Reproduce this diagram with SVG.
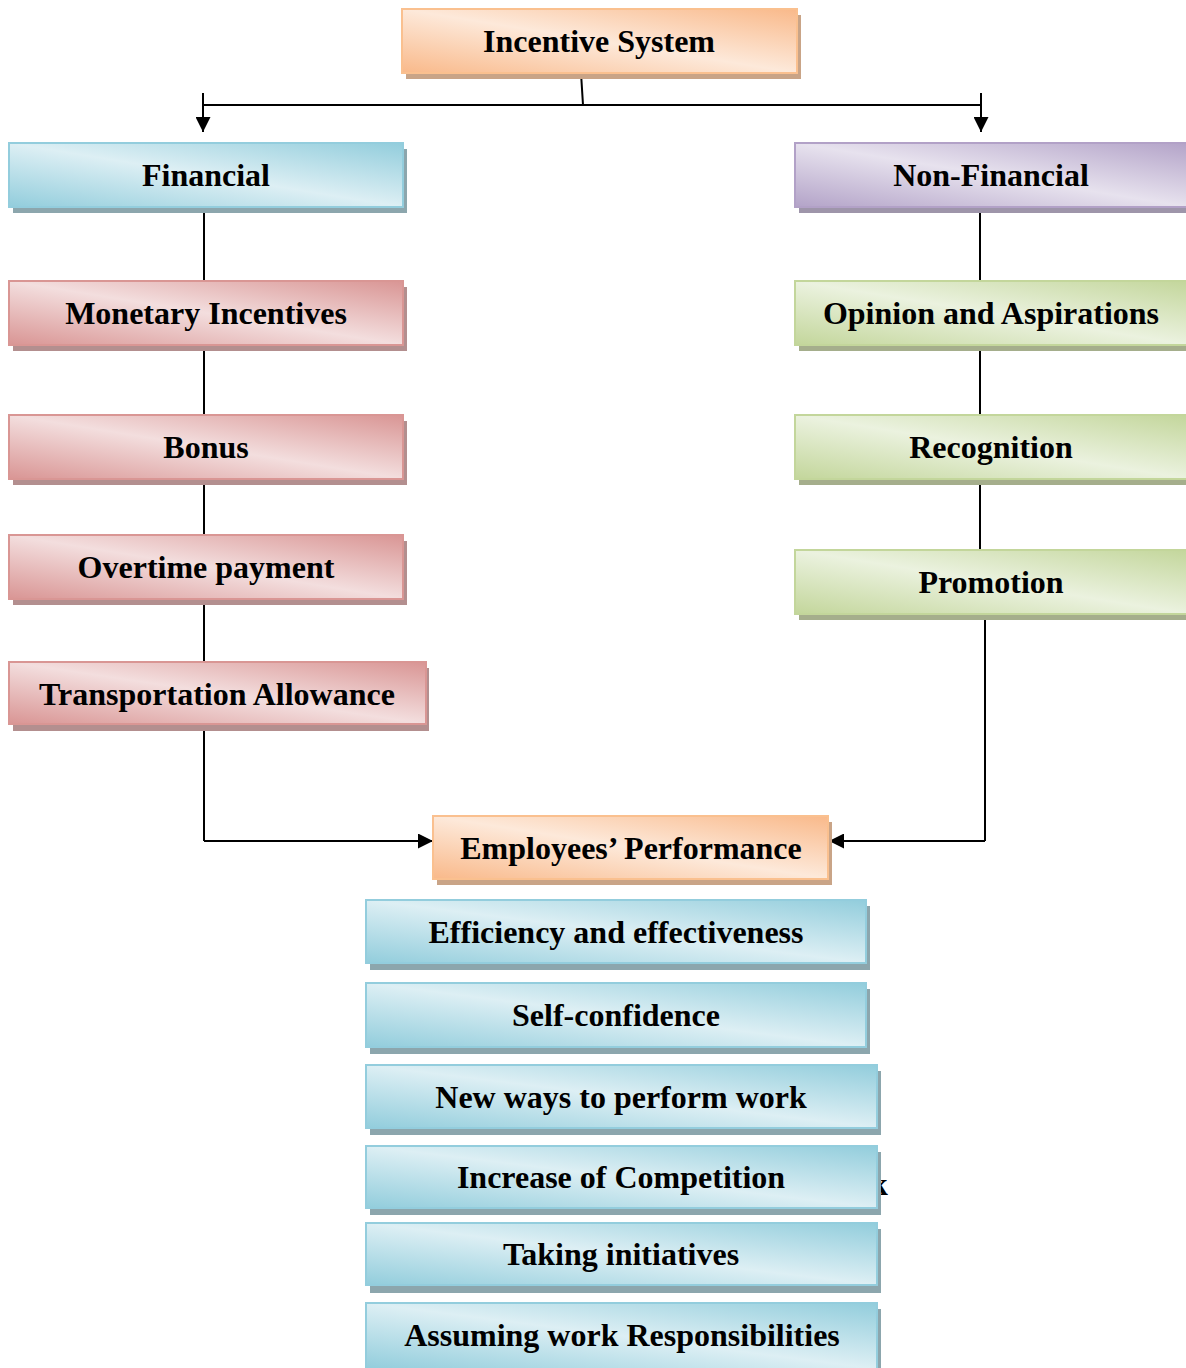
<svg xmlns="http://www.w3.org/2000/svg" width="1186" height="1368" viewBox="0 0 1186 1368">
<style>
.t{font-family:"Liberation Serif","Times New Roman",serif;font-weight:bold;font-size:32px;fill:#000;text-anchor:middle}
.ln{stroke:#000;stroke-width:2;fill:none}
.b{stroke-width:2}
.or{fill:url(#gOr);stroke:#fac08f}
.bl{fill:url(#gBl);stroke:#93cddd}
.pu{fill:url(#gPu);stroke:#b2a1c7}
.pk{fill:url(#gPk);stroke:#d99694}
.gr{fill:url(#gGr);stroke:#c3d69b}
.sOr{fill:#c9a487}
.sBl{fill:#8ca6ad}
.sPu{fill:#9e95aa}
.sPk{fill:#b38f8f}
.sGr{fill:#a5ae8c}
</style>
<defs>
<linearGradient id="gOr" x1="0" y1="1" x2="1" y2="0"><stop offset="0" stop-color="#f9b98a"/><stop offset="0.5" stop-color="#fde9da"/><stop offset="1" stop-color="#f9b98a"/></linearGradient>
<linearGradient id="gBl" x1="0" y1="1" x2="1" y2="0"><stop offset="0" stop-color="#92cddc"/><stop offset="0.5" stop-color="#ddeff4"/><stop offset="1" stop-color="#92cddc"/></linearGradient>
<linearGradient id="gPu" x1="0" y1="1" x2="1" y2="0"><stop offset="0" stop-color="#b3a3c8"/><stop offset="0.5" stop-color="#e7e2ee"/><stop offset="1" stop-color="#b3a3c8"/></linearGradient>
<linearGradient id="gPk" x1="0" y1="1" x2="1" y2="0"><stop offset="0" stop-color="#d99594"/><stop offset="0.5" stop-color="#f3dede"/><stop offset="1" stop-color="#d99594"/></linearGradient>
<linearGradient id="gGr" x1="0" y1="1" x2="1" y2="0"><stop offset="0" stop-color="#c3d69b"/><stop offset="0.5" stop-color="#ebf2df"/><stop offset="1" stop-color="#c3d69b"/></linearGradient>
<marker id="ah" viewBox="0 0 10 10" refX="10" refY="5" markerWidth="16" markerHeight="15" markerUnits="userSpaceOnUse" orient="auto"><path d="M0,0 L10,5 L0,10 z" fill="#000"/></marker>
</defs>

<g id="connectors">
<line class="ln" x1="581" y1="73" x2="583" y2="105"/>
<line class="ln" x1="203" y1="105" x2="981" y2="105"/>
<line class="ln" x1="203" y1="93" x2="203" y2="132" marker-end="url(#ah)"/>
<line class="ln" x1="981" y1="93" x2="981" y2="132" marker-end="url(#ah)"/>
<line class="ln" x1="204" y1="208" x2="204" y2="841"/>
<line class="ln" x1="204" y1="841" x2="433" y2="841" marker-end="url(#ah)"/>
<line class="ln" x1="980" y1="208" x2="980" y2="550"/>
<line class="ln" x1="985" y1="615" x2="985" y2="841"/>
<line class="ln" x1="985" y1="841" x2="829" y2="841" marker-end="url(#ah)"/>
</g>

<text class="t" x="870" y="1195" text-anchor="start" style="text-anchor:start">k</text>

<g id="incentive-system">
<rect class="sOr" x="406" y="15" width="395" height="64"/>
<rect class="b or" x="402" y="9" width="395" height="64"/>
<text class="t" x="599" y="52">Incentive System</text>
</g>
<g id="financial">
<rect class="sBl" x="13" y="149" width="394" height="64"/>
<rect class="b bl" x="9" y="143" width="394" height="64"/>
<text class="t" x="206" y="186">Financial</text>
</g>
<g id="non-financial">
<rect class="sPu" x="799" y="149" width="394" height="64"/>
<rect class="b pu" x="795" y="143" width="394" height="64"/>
<text class="t" x="991" y="186">Non-Financial</text>
</g>
<g id="monetary-incentives">
<rect class="sPk" x="13" y="287" width="394" height="64"/>
<rect class="b pk" x="9" y="281" width="394" height="64"/>
<text class="t" x="206" y="324">Monetary Incentives</text>
</g>
<g id="bonus">
<rect class="sPk" x="13" y="421" width="394" height="64"/>
<rect class="b pk" x="9" y="415" width="394" height="64"/>
<text class="t" x="206" y="458">Bonus</text>
</g>
<g id="overtime-payment">
<rect class="sPk" x="13" y="541" width="394" height="64"/>
<rect class="b pk" x="9" y="535" width="394" height="64"/>
<text class="t" x="206" y="578">Overtime payment</text>
</g>
<g id="transportation-allowance">
<rect class="sPk" x="13" y="668" width="416" height="63"/>
<rect class="b pk" x="9" y="662" width="417" height="62"/>
<text class="t" x="217" y="705">Transportation Allowance</text>
</g>
<g id="opinion-and-aspirations">
<rect class="sGr" x="799" y="287" width="394" height="64"/>
<rect class="b gr" x="795" y="281" width="394" height="64"/>
<text class="t" x="991" y="324">Opinion and Aspirations</text>
</g>
<g id="recognition">
<rect class="sGr" x="799" y="421" width="394" height="64"/>
<rect class="b gr" x="795" y="415" width="394" height="64"/>
<text class="t" x="991" y="458">Recognition</text>
</g>
<g id="promotion">
<rect class="sGr" x="799" y="556" width="394" height="64"/>
<rect class="b gr" x="795" y="550" width="394" height="64"/>
<text class="t" x="991" y="593">Promotion</text>
</g>
<g id="employees-performance">
<rect class="sOr" x="437" y="822" width="395" height="63"/>
<rect class="b or" x="433" y="816" width="395" height="63"/>
<text class="t" x="631" y="859">Employees’ Performance</text>
</g>
<g id="efficiency">
<rect class="sBl" x="370" y="906" width="500" height="64"/>
<rect class="b bl" x="366" y="900" width="500" height="63"/>
<text class="t" x="616" y="943">Efficiency and effectiveness</text>
</g>
<g id="self-confidence">
<rect class="sBl" x="370" y="989" width="500" height="65"/>
<rect class="b bl" x="366" y="983" width="500" height="64"/>
<text class="t" x="616" y="1026">Self-confidence</text>
</g>
<g id="new-ways">
<rect class="sBl" x="370" y="1071" width="511" height="64"/>
<rect class="b bl" x="366" y="1065" width="511" height="63"/>
<text class="t" x="621" y="1108">New ways to perform work</text>
</g>
<g id="increase-of-competition">
<rect class="sBl" x="370" y="1152" width="511" height="63"/>
<rect class="b bl" x="366" y="1146" width="511" height="62"/>
<text class="t" x="621" y="1188">Increase of Competition</text>
</g>
<g id="taking-initiatives">
<rect class="sBl" x="370" y="1229" width="511" height="64"/>
<rect class="b bl" x="366" y="1223" width="511" height="62"/>
<text class="t" x="621" y="1265">Taking initiatives</text>
</g>
<g id="assuming-responsibilities">
<rect class="sBl" x="370" y="1309" width="511" height="64"/>
<rect class="b bl" x="366" y="1303" width="511" height="66"/>
<text class="t" x="622" y="1346">Assuming work Responsibilities</text>
</g>
</svg>
